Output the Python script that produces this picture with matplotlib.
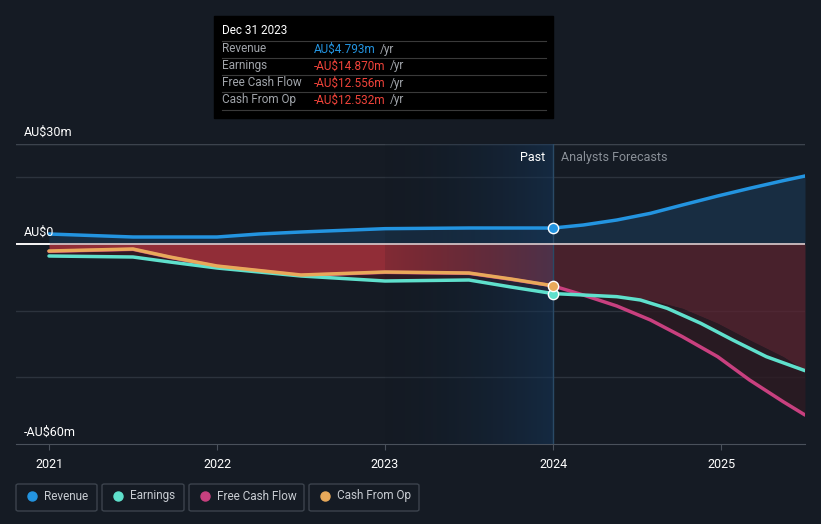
import numpy as np
import matplotlib
matplotlib.use("Agg")
import matplotlib.pyplot as plt
from matplotlib.patches import Rectangle, FancyBboxPatch

plt.rcParams['font.family'] = ['Roboto', 'DejaVu Sans']

# Данные (млн AU$)
rev_x = [2021.0, 2021.5, 2022.0, 2022.25, 2022.5, 2023.0, 2023.5, 2024.0,
         2024.18, 2024.38, 2024.58, 2024.77, 2024.98, 2025.17, 2025.37, 2025.5]
rev_y = [3.0, 2.1, 2.1, 3.0, 3.6, 4.6, 4.8, 4.793,
         5.7, 7.2, 9.2, 11.7, 14.4, 16.7, 19.0, 20.4]

earn_x = [2021.0, 2021.5, 2021.72, 2022.0, 2022.5, 2023.0, 2023.5, 2023.75, 2024.0,
          2024.18, 2024.38, 2024.52, 2024.68, 2024.88, 2025.07, 2025.27, 2025.5]
earn_y = [-3.6, -3.9, -5.4, -7.2, -9.6, -11.1, -10.8, -12.9, -14.87,
          -15.3, -15.8, -16.8, -19.3, -23.8, -28.8, -33.8, -38.0]

cfo_x = [2021.0, 2021.5, 2021.72, 2022.0, 2022.5, 2023.0, 2023.5, 2023.75, 2024.0]
cfo_y = [-2.1, -1.5, -3.9, -6.6, -9.3, -8.4, -8.7, -10.5, -12.532]

fcf_x = [2021.0, 2021.5, 2021.72, 2022.0, 2022.5, 2023.0, 2023.5, 2023.75, 2024.0,
         2024.18, 2024.38, 2024.58, 2024.77, 2024.98, 2025.17, 2025.37, 2025.5]
fcf_y = [-2.2, -1.6, -4.0, -6.7, -9.4, -8.5, -8.8, -10.6, -12.556,
         -15.3, -18.6, -22.8, -27.8, -33.8, -40.8, -47.3, -51.3]

yticks = [30, 0, -60]
ytick_labels = ['AU$30m', 'AU$0', '-AU$60m']
years = [2021, 2022, 2023, 2024, 2025]

bg = '#151b24'
c_rev = '#2394e0'
c_earn = '#5fe0cc'
c_fcf = '#c8407f'
c_cfo = '#e8a95a'

fig = plt.figure(figsize=(8.21, 5.24), dpi=100, facecolor=bg)
ax = fig.add_axes([16/821, 80/524, 789/821, 300/524])
ax.set_facecolor(bg)
x0lim, x1lim = 2021 - 33/168, 2021 + 756/168
ax.set_xlim(x0lim, x1lim)
ax.set_ylim(-60, 30)

# сетка
for g in [30, 20, -20, -40]:
    ax.axhline(g, color='#2c333d', lw=1, zorder=1)
ax.axhline(30, color='#3c434d', lw=1, zorder=1)

# заливки
rx = np.array(rev_x); ry = np.array(rev_y)
ax.fill_between(rx, 0, ry, color='#1d4a70', alpha=0.4, lw=0, zorder=2)
cx = np.array(cfo_x); cy = np.array(cfo_y)
ax.fill_between(cx, 0, cy, color='#a0303a', alpha=0.9, lw=0, zorder=2)
ex = np.array(earn_x); ey = np.array(earn_y)
ax.fill_between(ex[:9], cy, ey[:9], color='#3a1a22', alpha=0.8, lw=0, zorder=2)
fx = np.array(fcf_x); fy = np.array(fcf_y)
top = np.maximum(fy[8:], ey[8:])
ax.fill_between(fx[8:], 0, top, color='#5a2430', alpha=0.75, lw=0, zorder=2)
ax.fill_between(fx[8:], top, fy[8:], color='#2e1a22', alpha=0.8, lw=0, zorder=2)

# зона "прошлое" — градиент полосками
n = 84
for i in range(n):
    t = i / (n - 1)
    col = (0.06 + 0.02 * t, 0.09 + 0.12 * t, 0.13 + 0.22 * t)
    ax.axvspan(2023.0 + i / n, 2023.0 + (i + 1) / n, color=col, alpha=0.12 + 0.42 * t,
               lw=0, zorder=3)
ax.axvline(2024.0, color='#2a4a66', lw=1, zorder=3)

ax.plot([x0lim, 2021.0], [0, 0], color='white', lw=1.2, zorder=4)
ax.axhline(0, color='#f0dada', lw=1.1, zorder=3.5)

# линии
ax.plot(rev_x, rev_y, color=c_rev, lw=2.5, zorder=5, solid_capstyle='round')
ax.plot(earn_x, earn_y, color=c_earn, lw=2.5, zorder=5, solid_capstyle='round')
ax.plot(fcf_x, fcf_y, color=c_fcf, lw=2.5, zorder=4, solid_capstyle='round')
ax.plot(cfo_x, cfo_y, color=c_cfo, lw=2.5, zorder=6, solid_capstyle='round')

for yy, cc in [(rev_y[7], c_rev), (earn_y[8], c_earn), (cfo_y[8], c_cfo)]:
    ax.scatter([2024.0], [yy], s=55, color=cc, edgecolor='white', lw=1, zorder=7)

for s in ['top', 'right', 'left']:
    ax.spines[s].set_visible(False)
ax.spines['bottom'].set_color('#4a515b')
ax.set_yticks([])
ax.set_xticks(years)
ax.set_xticklabels([str(y) for y in years], color='white', fontsize=9)
ax.tick_params(axis='x', colors='#4a515b', length=4, pad=6, labelcolor='white')

for v, lab in zip(yticks, ytick_labels):
    ax.text(2021 - 25/168, v + 1.5, lab, color='white', fontsize=9, va='bottom', ha='left', zorder=8)

ax.text(2024.0 - 8/168, 26, 'Past', color='white', fontsize=9, ha='right', va='center', zorder=8)
ax.text(2024.0 + 8/168, 26, 'Analysts Forecasts', color='#8a9098', fontsize=9, ha='left', va='center', zorder=8)

# подсказка
W, H = 821, 524
fig.patches.append(Rectangle((214/W, 1 - 118/H), 339/W, 102/H, transform=fig.transFigure,
                             color='black', zorder=10))
fig.text(222/W, 1 - 31/H, 'Dec 31 2023', color='white', fontsize=8.5, va='center', zorder=11)
rows = [('Revenue', 'AU$4.793m', c_rev),
        ('Earnings', '-AU$14.870m', '#f0433a'),
        ('Free Cash Flow', '-AU$12.556m', '#f0433a'),
        ('Cash From Op', '-AU$12.532m', '#f0433a')]
renderer = fig.canvas.get_renderer()
for i, (name, val, col) in enumerate(rows):
    yc = 49 + i * 17
    fig.add_artist(plt.Line2D([222/W, 546/W], [1 - (yc - 8.5)/H] * 2, color='#3a3a3a', lw=0.8, zorder=11))
    fig.text(222/W, 1 - yc/H, name, color='#a0a4aa', fontsize=8.5, va='center', zorder=11)
    tv = fig.text(314/W, 1 - yc/H, val, color=col, fontsize=8.5, va='center', zorder=11)
    bb = tv.get_window_extent(renderer)
    fig.text((bb.x1 + 4)/W, 1 - yc/H, '/yr', color='#a0a4aa', fontsize=8.5, va='center', zorder=11)
fig.add_artist(plt.Line2D([222/W, 546/W], [1 - 110/H] * 2, color='#3a3a3a', lw=0.8, zorder=11))

# легенда
legend = [('Revenue', c_rev, 16, 97), ('Earnings', c_earn, 102, 184),
          ('Free Cash Flow', c_fcf, 189, 304), ('Cash From Op', c_cfo, 309, 419)]
for name, col, xa, xb in legend:
    fig.patches.append(FancyBboxPatch((xa/W, 1 - 511/H), (xb - xa)/W, 27/H,
                                      boxstyle='round,pad=0,rounding_size=0.003',
                                      transform=fig.transFigure, fc=bg, ec='#3c434d', lw=1))
    fig.add_artist(plt.Line2D([(xa + 16)/W], [1 - 496/H], marker='o', ms=6.5, color=col, lw=0))
    fig.text((xa + 28)/W, 1 - 496/H, name, color='#c8ccd2', fontsize=8.5, va='center')

fig.savefig('out.png', dpi=100, facecolor=bg)
